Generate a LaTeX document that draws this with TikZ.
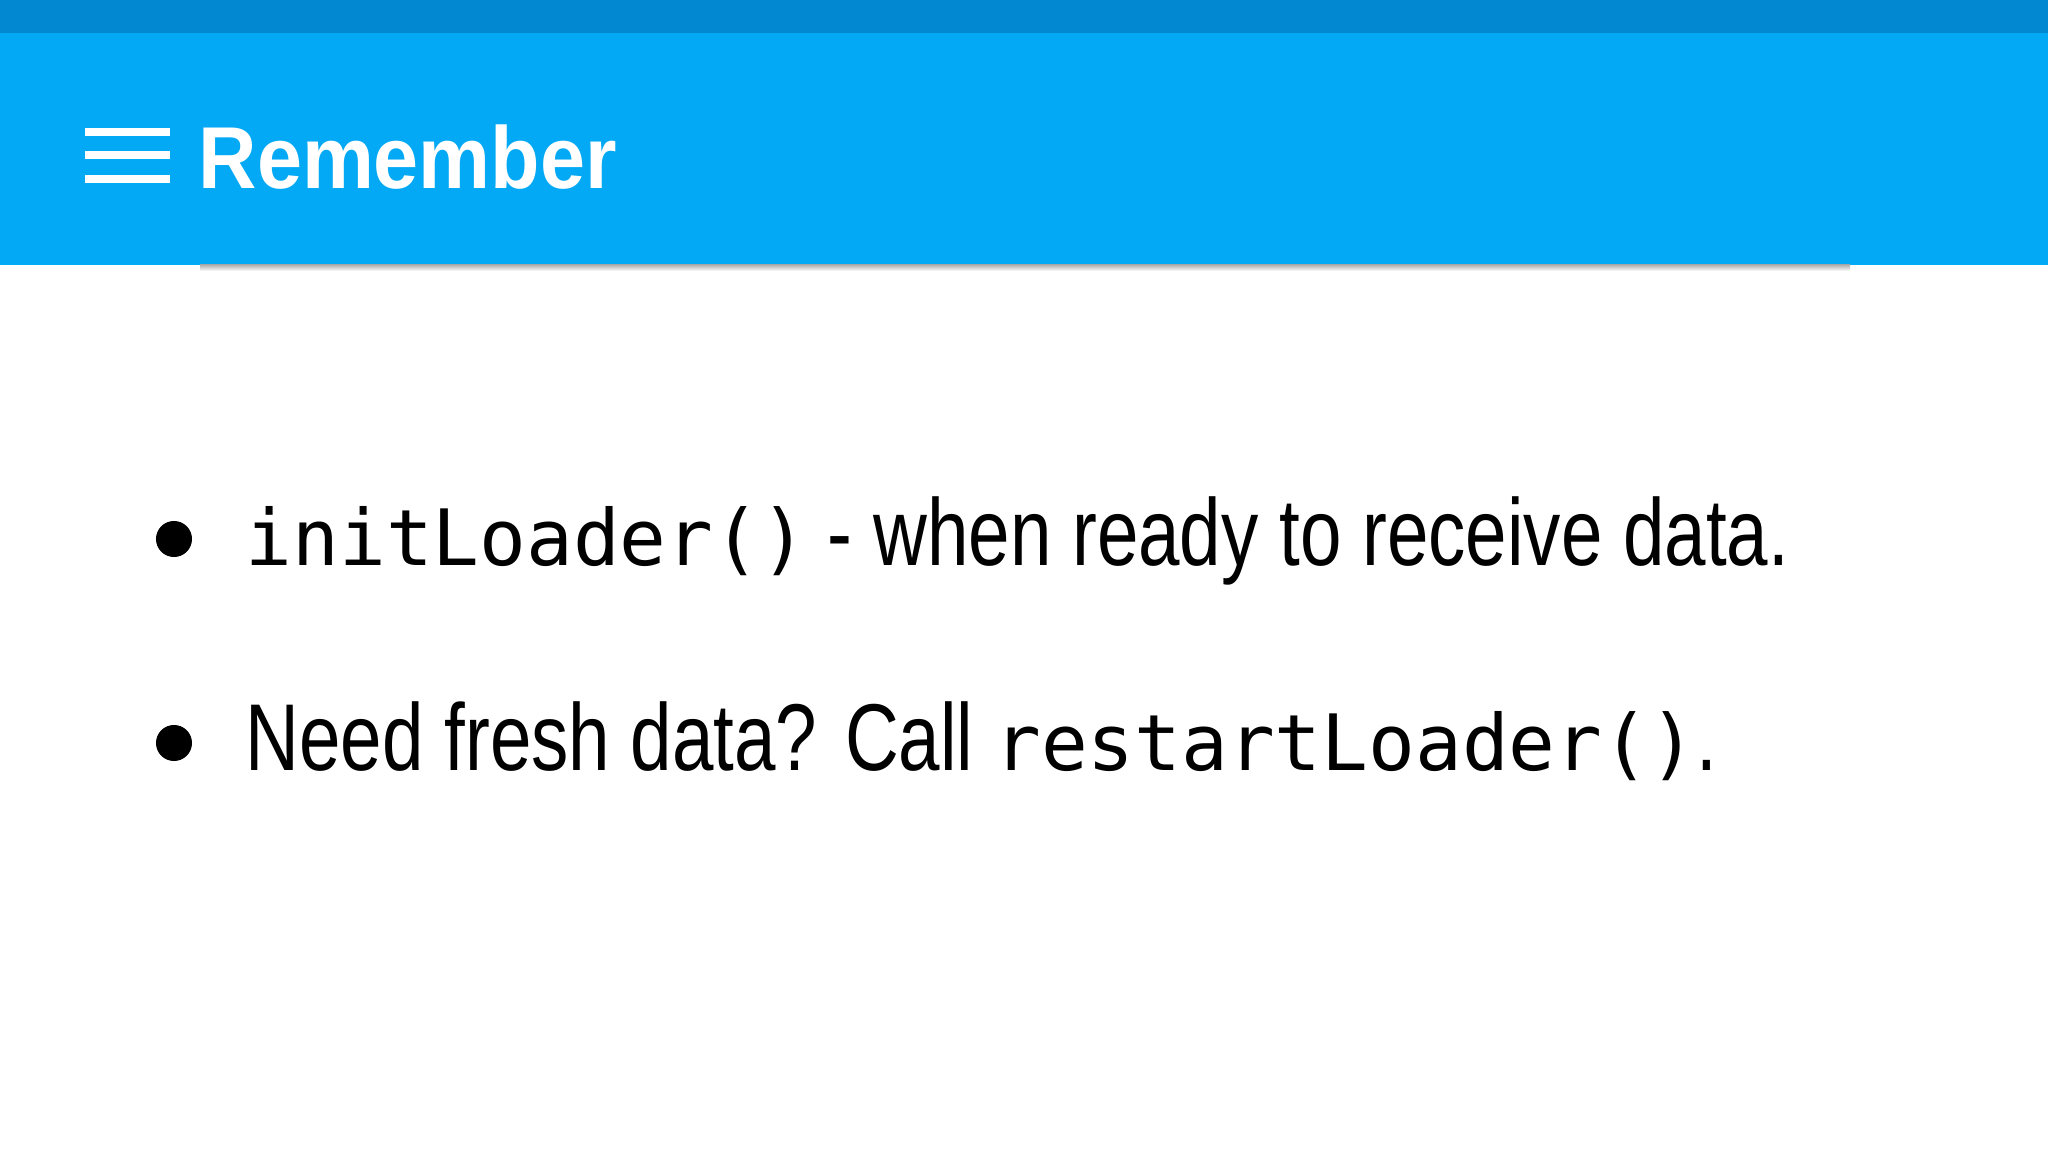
\documentclass[tikz,border=0pt]{standalone}
\usepackage{fontspec}
\setmainfont{Liberation Sans}
\newfontfamily\headfont{Liberation Sans}[FakeStretch=0.92]
\newfontfamily\condfont{Liberation Sans}[FakeStretch=0.785]
\newfontfamily\codefont{DejaVu Sans Mono}
\definecolor{topbar}{HTML}{0288D1}
\definecolor{header}{HTML}{03A9F4}
\tikzset{
  menuline/.style={white, line width=0.075cm},
  bullet/.style={circle, fill=black, inner sep=0pt, minimum size=0.36cm},
  itemtext/.style={anchor=base west, inner sep=0pt, font=\condfont\fontsize{27}{30}\selectfont},
}
\newcommand{\cd}[1]{{\codefont\fontsize{22.1}{26}\selectfont #1}}
\begin{document}
\begin{tikzpicture}[x=0.01cm,y=-0.01cm]
\useasboundingbox (0,0) rectangle (2048,1152);
\fill[white] (0,0) rectangle (2048,1152);
\fill[header] (0,33) rectangle (2048,265);
\fill[topbar] (0,0) rectangle (2048,33);
\shade[top color=black!30, bottom color=white] (200,265) rectangle (1850,271);
\draw[menuline] (85,132) -- (170,132);
\draw[menuline] (85,155) -- (170,155);
\draw[menuline] (85,179) -- (170,179);
\node[anchor=base west, inner sep=0pt, text=white, font=\headfont\bfseries\fontsize{25}{30}\selectfont] (title) at (198,189) {Remember};
\node[bullet] (b1) at (174,539) {};
\node[bullet] (b2) at (174,743) {};
\node[itemtext] (t1) at (245,566) {\cd{initLoader()} - when ready to receive data.};
\node[itemtext] (t2) at (245,770) {Need fresh data? Call \cd{restartLoader()}.};
\end{tikzpicture}
\end{document}
